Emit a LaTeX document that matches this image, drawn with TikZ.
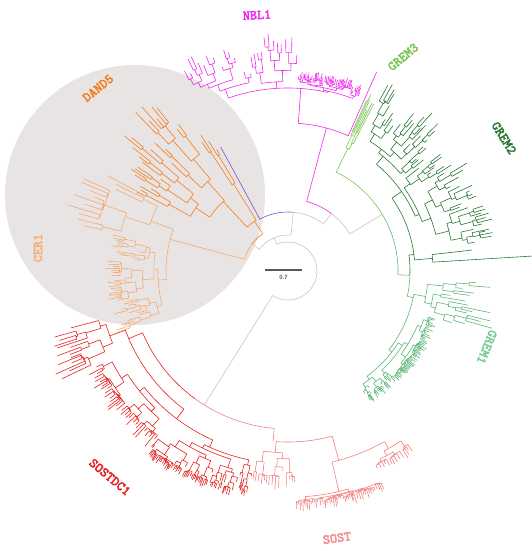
\documentclass[tikz,border=0pt]{standalone}
\usepackage{fontspec}
\definecolor{bgc}{RGB}{232,228,227}
\definecolor{bbc}{RGB}{208,192,192}
\definecolor{nblc}{RGB}{238,40,238}
\definecolor{gr3c}{RGB}{122,198,82}
\definecolor{gr2c}{RGB}{40,120,52}
\definecolor{gr1c}{RGB}{92,182,118}
\definecolor{gr1lab}{RGB}{120,204,150}
\definecolor{sdcc}{RGB}{228,32,30}
\definecolor{sstc}{RGB}{240,128,128}
\definecolor{sstlab}{RGB}{240,140,140}
\definecolor{dndc}{RGB}{245,125,30}
\definecolor{cerc}{RGB}{245,170,110}
\definecolor{cerlab}{RGB}{245,175,120}
\definecolor{purc}{RGB}{125,80,210}
\definecolor{sbc}{RGB}{90,90,90}
% random circular subtree: #1 a1, #2 a2, #3 start radius, #4 depth
\newcommand\phset[7]{\def\PHlw{#1}\def\PHimin{#2}\def\PHimax{#3}\def\PHlmin{#4}\def\PHlmax{#5}\def\PHsp{#6}\def\PHcap{#7}}
\newcommand\phsub[4]{%
 \begingroup
 \pgfmathsetmacro\PHw{#2-#1}%
 \pgfmathsetmacro\PHc{(#1+#2)/2}%
 \pgfmathtruncatemacro\PHleaf{(\PHw<\PHlw)||(#4<1)}%
 \ifnum\PHleaf>0
   \pgfmathsetmacro\PHr{#3+\PHlmin+rnd*(\PHlmax-\PHlmin)}%
   \draw (\PHc:#3) -- (\PHc:\PHr);%
 \else
   \pgfmathsetmacro\PHr{max(#3+0.6,min(#3+\PHimin+rnd*(\PHimax-\PHimin),\PHcap))}%
   \pgfmathsetmacro\PHm{#1+\PHw*(\PHsp+rnd*(1-2*\PHsp))}%
   \pgfmathsetmacro\PHa{(#1+\PHm)/2}%
   \pgfmathsetmacro\PHb{(\PHm+#2)/2}%
   \draw (\PHc:#3) -- (\PHc:\PHr) (\PHa:\PHr) arc[start angle=\PHa,end angle=\PHb,radius=\PHr];%
   \edef\PHnext{\noexpand\phsub{#1}{\PHm}{\PHr}{\the\numexpr#4-1\relax}\noexpand\phsub{\PHm}{#2}{\PHr}{\the\numexpr#4-1\relax}}%
   \PHnext
 \fi
 \endgroup}
\font\labfnt="[lmmono10-regular.otf]:embolden=3" at 13.5pt
\tikzset{lab/.style={font=\labfnt, inner sep=0pt}}
\begin{document}
\begin{tikzpicture}[x=1pt,y=-1pt,line width=0.6pt,line join=round]
\useasboundingbox (0,0) rectangle (532,551);
\fill[bgc] (135,195) circle[radius=130];
\begin{scope}[shift={(288,271)}]
% backbone
\begin{scope}[bbc]
\draw (-113:29) arc[start angle=-113,end angle=122,radius=29];
\draw (-113:29)--(-113:36);
\draw (-143:36) arc[start angle=-143,end angle=-85,radius=36];
\draw (-143:36)--(-143:45);
\draw (-85:36)--(-85:59);
\draw (-85:59) arc[start angle=-85,end angle=-53,radius=59];
\draw (-53:59)--(-53:72);
\draw (-53:72) arc[start angle=-53,end angle=-31,radius=72];
\draw (-31:72)--(-31:110);
\draw (122:29)--(122:158);
\end{scope}
\draw[purc] (-118.5:59) arc[start angle=-118.5,end angle=-85,radius=59];
\draw[purc] (-118.5:59)--(-118.5:141);
\draw[nblc] (-75:72) arc[start angle=-75,end angle=-53,radius=72];
\draw[cerc] (-165:45) arc[start angle=-165,end angle=-143,radius=45];
\draw[dndc] (-143:45) arc[start angle=-143,end angle=-124,radius=45];
\draw[gr3c] (-64:110) arc[start angle=-64,end angle=-31,radius=110];
\draw[gr1c] (-31:110) arc[start angle=-31,end angle=2,radius=110];
\draw[gr1c] (2:110)--(2:122);
\draw[gr2c] (-7.5:122) arc[start angle=-7.5,end angle=2,radius=122];
\draw[gr1c] (2:122) arc[start angle=2,end angle=12,radius=122];
\draw[sdcc] (126:158) arc[start angle=126,end angle=157,radius=158];
\draw[sstc] (95:158) arc[start angle=95,end angle=126,radius=158];
% NBL1
\begin{scope}[nblc]
\draw (-75:72)--(-75:148);
\draw (-86:148) arc[start angle=-86,end angle=-66,radius=148];
\draw (-66:148)--(-66:218);
\draw (-86:148)--(-86:183);
\draw (-109:183) arc[start angle=-109,end angle=-77.5,radius=183];
\pgfmathsetseed{11}
\phset{1.9}{4}{12}{3}{14}{0.15}{222}
\phsub{-118}{-100}{183}{10}
\phset{1.6}{5}{14}{5}{22}{0.15}{225}
\phsub{-100}{-87}{183}{10}
\phset{0.7}{1}{3}{2}{8}{0.08}{192}
\phsub{-87}{-68}{183}{12}
\end{scope}
% GREM3
\begin{scope}[gr3c]
\draw (-64:110)--(-64:132);
\pgfmathsetseed{23}
\phset{0.7}{4}{14}{25}{45}{0.3}{160}
\phsub{-65.5}{-62.5}{132}{6}
\end{scope}
% GREM2
\begin{scope}[gr2c]
\draw (-7.5:122)--(-7.5:127);
\draw (-35:127) arc[start angle=-35,end angle=-5,radius=127];
\draw (-5:127)--(-5:145);
\draw (-6.5:145) arc[start angle=-6.5,end angle=-3.5,radius=145];
\draw (-3.5:145)--(-3.5:246);
\draw (-6.5:145)--(-6.5:185);
\pgfmathsetseed{37}
\phset{1.6}{4}{14}{3}{20}{0.12}{195}
\phsub{-62}{-8}{127}{12}
\end{scope}
% GREM1
\begin{scope}[gr1c]
\draw (12:122)--(12:128);
\draw (10.5:128) arc[start angle=10.5,end angle=38,radius=128];
\pgfmathsetseed{41}
\phset{1.4}{5}{18}{5}{30}{0.2}{185}
\phsub{3}{18}{128}{10}
\phset{0.9}{2}{6}{2}{8}{0.08}{148}
\phsub{18}{58}{128}{12}
\end{scope}
% SOSTDC1
\begin{scope}[sdcc]
\draw (157:158)--(157:173);
\draw (127:173) arc[start angle=127,end angle=160,radius=173];
\pgfmathsetseed{53}
\phset{1.5}{5}{18}{10}{35}{0.15}{222}
\phsub{154}{166}{173}{10}
\draw (127:173)--(127:185);
\draw (114:185) arc[start angle=114,end angle=141,radius=185];
\phset{1.3}{4}{12}{4}{16}{0.12}{210}
\phsub{128}{154}{185}{12}
\phset{0.65}{3}{10}{2}{8}{0.08}{224}
\phsub{100}{128}{185}{13}
\end{scope}
% SOST
\begin{scope}[sstc]
\draw (95:158)--(95:171);
\draw (75:171) arc[start angle=75,end angle=94,radius=171];
\pgfmathsetseed{67}
\phset{1.3}{5}{14}{3}{14}{0.15}{205}
\phsub{88}{100}{171}{10}
\draw (75:171)--(75:196);
\draw (60.5:196) arc[start angle=60.5,end angle=77,radius=196];
\phset{0.8}{15}{35}{2}{9}{0.1}{229}
\phsub{66}{88}{196}{12}
\phset{1.2}{3}{8}{3}{10}{0.2}{212}
\phsub{55}{66}{196}{8}
\end{scope}
% DAND5
\begin{scope}[dndc]
\draw (-124:45)--(-124:60);
\draw (-133:60) arc[start angle=-133,end angle=-122,radius=60];
\pgfmathsetseed{71}
\phset{1.5}{30}{60}{5}{20}{0.2}{175}
\phsub{-124}{-120}{60}{6}
\draw (-133:60)--(-133:95);
\draw (-145.5:95) arc[start angle=-145.5,end angle=-132,radius=95];
\phset{1.5}{8}{25}{5}{25}{0.2}{195}
\phsub{-153}{-138}{95}{10}
\phset{1.7}{10}{30}{8}{30}{0.2}{190}
\phsub{-138}{-126}{95}{10}
\end{scope}
% CER1
\begin{scope}[cerc]
\draw (-165:45)--(-165:122);
\draw (-184:122) arc[start angle=-184,end angle=-160,radius=122];
\pgfmathsetseed{83}
\phset{1.8}{8}{28}{10}{35}{0.15}{195}
\phsub{-168}{-152}{122}{10}
\phset{1.1}{3}{12}{3}{15}{0.1}{168}
\phsub{-200}{-168}{122}{12}
\end{scope}
\end{scope}
% scale bar
\coordinate (sb1) at (265,270);
\coordinate (sb2) at (302,270);
\draw[sbc,line width=1.1pt] (sb1)--(sb2);
\node[sbc,font=\fontsize{6}{6}\selectfont\sffamily\bfseries,inner sep=0pt] (sbl) at (283.5,277.5) {0.7};
% labels
\node[lab,nblc,rotate=3] (lnbl) at (257,15) {NBL1};
\node[lab,gr3c,rotate=40] (lgr3) at (403,57) {GREM3};
\node[lab,gr2c,rotate=-58] (lgr2) at (504,138) {GREM2};
\node[lab,gr1lab,rotate=-112] (lgr1) at (487,347) {GREM1};
\node[lab,sstlab,rotate=8] (lsst) at (337,538) {SOST};
\node[lab,sdcc,rotate=-40] (lsdc) at (110,477) {SOSTDC1};
\node[lab,dndc,rotate=39] (ldnd) at (98,88) {DAND5};
\node[lab,cerlab,rotate=90] (lcer) at (38,248) {CER1};
\end{tikzpicture}
\end{document}
